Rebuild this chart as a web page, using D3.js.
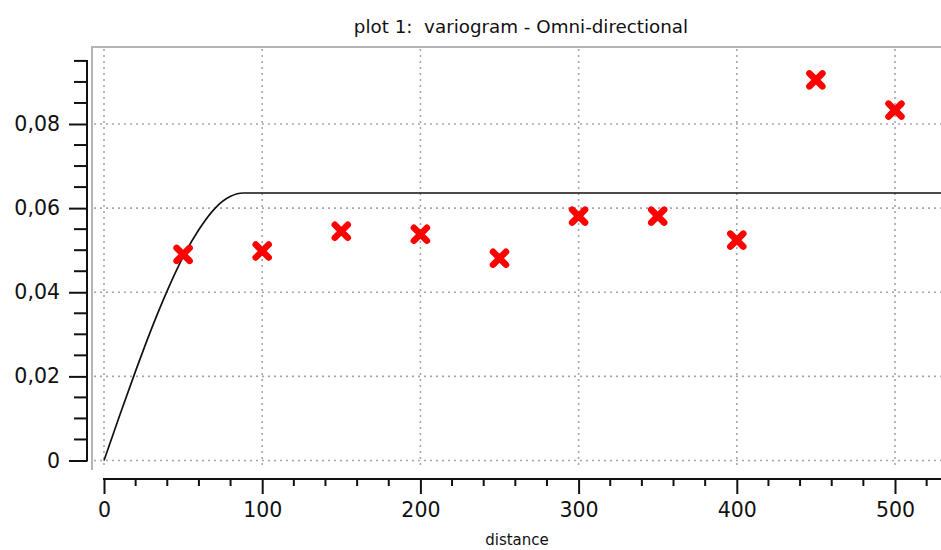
<!DOCTYPE html>
<html>
<head>
<meta charset="utf-8">
<script src="https://cdn.jsdelivr.net/npm/d3@7"></script>
<style>
  body { margin: 0; background: #fff; }
  text { font-family: "DejaVu Sans", sans-serif; fill: #111; }
</style>
</head>
<body>
<div id="chart"></div>
<script>
// experimental variogram (lag distance, semivariance)
const lags = [50, 100, 150, 200, 250, 300, 350, 400, 450, 500];
const gammaValues = [0.049, 0.0498, 0.0545, 0.0538, 0.0481, 0.0581, 0.0581, 0.0524, 0.0905, 0.0833];

// fitted model, points
const modelDist = [0, 10, 20, 30, 40, 50, 60, 70, 80, 88, 530];
const modelGamma = [0, 0.0108, 0.0213, 0.0313, 0.0404, 0.0484, 0.0549, 0.0599, 0.0628, 0.0636, 0.0636];

// tick labels
const xTicks = [0, 100, 200, 300, 400, 500];
const yTicks = [0, 0.02, 0.04, 0.06, 0.08];

const width = 941;
const height = 550;

const svg = d3
  .select("#chart")
  .append("svg")
  .attr("width", width)
  .attr("height", height);

// scales
const x = d3.scaleLinear().domain([0, 500]).range([104, 895]);
const y = d3.scaleLinear().domain([0, 0.08]).range([460.5, 124]);

const frameLeft = 92;
const frameTop = 47;
const frameBottom = 470;

// grid (dotted)
const grid = svg.append("g").attr("stroke", "#a6a6a6").attr("stroke-width", 1.6).attr("stroke-dasharray", "2,4");
grid
  .selectAll("line.gx")
  .data(xTicks)
  .join("line")
  .attr("class", "gx")
  .attr("x1", (d) => x(d))
  .attr("x2", (d) => x(d))
  .attr("y1", frameTop + 2)
  .attr("y2", frameBottom - 2);
grid
  .selectAll("line.gy")
  .data(yTicks)
  .join("line")
  .attr("class", "gy")
  .attr("x1", frameLeft + 2)
  .attr("x2", width)
  .attr("y1", (d) => y(d))
  .attr("y2", (d) => y(d));

// plot frame (left + top only)
svg
  .append("path")
  .attr("d", `M${frameLeft},${frameBottom}V${frameTop}H${width}`)
  .attr("fill", "none")
  .attr("stroke", "#b4b4b4")
  .attr("stroke-width", 2);

// y axis
const yAxis = svg.append("g").attr("transform", "translate(87,0)");
yAxis
  .call(d3.axisLeft(y).tickValues(yTicks).tickSize(18).tickPadding(9).tickFormat((d) => (d === 0 ? "0" : d3.format(".2f")(d).replace(".", ","))))
  .call((g) => g.select(".domain").remove())
  .call((g) => g.selectAll(".tick line").attr("stroke", "#111").attr("stroke-width", 2))
  .call((g) => g.selectAll(".tick text").attr("font-size", 20.5).attr("font-family", "DejaVu Sans"));
yAxis
  .selectAll("line.minor")
  .data(d3.range(1, 20).filter((i) => i % 4 !== 0).map((i) => i * 0.005))
  .join("line")
  .attr("class", "minor")
  .attr("x1", -13)
  .attr("x2", 0)
  .attr("y1", (d) => y(d))
  .attr("y2", (d) => y(d))
  .attr("stroke", "#111")
  .attr("stroke-width", 2);
yAxis.append("line").attr("x1", 0).attr("x2", 0).attr("y1", y(0) + 1).attr("y2", 60).attr("stroke", "#111").attr("stroke-width", 2);

// x axis
const xAxis = svg.append("g").attr("transform", "translate(0,479)");
xAxis
  .call(d3.axisBottom(x).tickValues(xTicks).tickSize(15).tickPadding(8).tickFormat(d3.format("d")))
  .call((g) => g.select(".domain").remove())
  .call((g) => g.selectAll(".tick line").attr("stroke", "#111").attr("stroke-width", 2))
  .call((g) => g.selectAll(".tick text").attr("font-size", 20.5).attr("font-family", "DejaVu Sans"));
xAxis
  .selectAll("line.minor")
  .data(d3.range(1, 27).filter((i) => i % 5 !== 0).map((i) => i * 20))
  .join("line")
  .attr("class", "minor")
  .attr("x1", (d) => x(d))
  .attr("x2", (d) => x(d))
  .attr("y1", 0)
  .attr("y2", 7)
  .attr("stroke", "#111")
  .attr("stroke-width", 2);
xAxis.append("line").attr("x1", x(0) - 1).attr("x2", width).attr("y1", 0).attr("y2", 0).attr("stroke", "#111").attr("stroke-width", 2);

// model curve
const line = d3
  .line()
  .x((d, i) => x(modelDist[i]))
  .y((d) => y(d))
  .curve(d3.curveMonotoneX);
svg
  .append("path")
  .datum(modelGamma)
  .attr("d", line)
  .attr("fill", "none")
  .attr("stroke", "#111")
  .attr("stroke-width", 1.7);

// experimental points as red crosses
const s = 6.5;
svg
  .append("g")
  .selectAll("path")
  .data(lags)
  .join("path")
  .attr("transform", (d, i) => `translate(${x(d)},${y(gammaValues[i])})`)
  .attr("d", `M${-s},${-s}L${s},${s}M${-s},${s}L${s},${-s}`)
  .attr("stroke", "#ff0000")
  .attr("stroke-width", 6.5)
  .attr("stroke-linecap", "round");

// title and axis label
svg
  .append("text")
  .attr("x", 521)
  .attr("y", 33)
  .attr("text-anchor", "middle")
  .attr("font-size", 18.3)
  .style("white-space", "pre")
  .text("plot 1:  variogram - Omni-directional");

svg
  .append("text")
  .attr("x", 517)
  .attr("y", 545)
  .attr("text-anchor", "middle")
  .attr("font-size", 15)
  .text("distance");
</script>
</body>
</html>
